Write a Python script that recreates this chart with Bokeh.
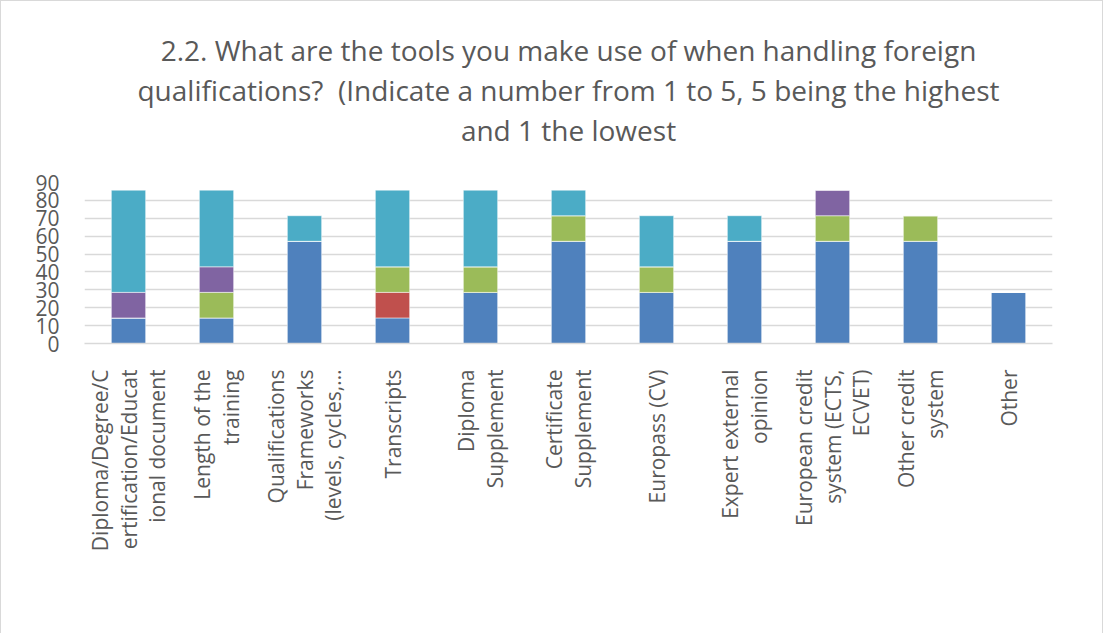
import math
from bokeh.plotting import figure
from bokeh.models import (ColumnDataSource, Range1d, SingleIntervalTicker,
                          FixedTicker, Title, Legend, LegendItem)
from bokeh.embed import file_html
from bokeh.resources import INLINE

# ---------------- data ----------------
# category tick labels, wrapped as in the chart
categories = [
    "Diploma/Degree/C\nertification/Educat\nional document",
    "Length of the\ntraining",
    "Qualifications\nFrameworks\n(levels, cycles,\u2026",
    "Transcripts",
    "Diploma\nSupplement",
    "Certificate\nSupplement",
    "Europass (CV)",
    "Expert external\nopinion",
    "European credit\nsystem (ECTS,\nECVET)",
    "Other credit\nsystem",
    "Other",
]
series_names = ["1", "2", "3", "4", "5"]
s1 = [14.29, 14.29, 57.14, 14.29, 28.57, 57.14, 28.57, 57.14, 57.14, 57.14, 28.57]
s2 = [0, 0, 0, 14.29, 0, 0, 0, 0, 0, 0, 0]
s3 = [0, 14.29, 0, 14.29, 14.29, 14.29, 14.29, 0, 14.29, 14.29, 0]
s4 = [14.29, 14.29, 0, 0, 0, 0, 0, 0, 14.29, 0, 0]
s5 = [57.14, 42.86, 14.29, 42.86, 42.86, 14.29, 28.57, 14.29, 0, 0, 0]
colors = ["#4F81BD", "#C0504D", "#9BBB59", "#8064A2", "#4BACC6"]
title_lines = [
    "2.2. What are the tools you make use of when handling foreign",
    "qualifications?\u00a0 (Indicate a number from 1 to 5, 5 being the highest",
    "and 1 the lowest",
]
y_ticks_interval = 10

FONT = "Open Sans"
TXT = "#595959"
GRID = "#D9D9D9"
LINE_STEP = 0.324  # spacing of wrapped label lines, in category widths

# category slot centres on a 0..N axis (one unit per category)
cat_pos = [i + 0.5 for i in range(len(categories))]
source = ColumnDataSource(dict(pos=cat_pos, cat=categories,
                               **{"1": s1, "2": s2, "3": s3, "4": s4, "5": s5}))

p = figure(frame_width=968, frame_height=161, x_range=Range1d(0, len(categories)),
           y_range=Range1d(0, 90), output_backend="svg", toolbar_location=None,
           min_border_left=83, min_border_right=50, min_border_top=181, min_border_bottom=289)
p.title = None
p.outline_line_color = None
p.styles = {"border": "1px solid #D9D9D9"}

renderers = p.vbar_stack(series_names, x="pos", width=0.39, color=colors, source=source,
                         line_color="white", line_alpha=0.5, line_width=1)

# spacer between frame and title, then the title lines (bottom line first)
p.add_layout(Title(text="\u00a0", text_font_size="29px", standoff=0), "above")
for txt in reversed(title_lines):
    p.add_layout(Title(text=txt, align="center", text_font=FONT, offset=-7,
                       text_font_size="28px", text_font_style="normal", text_color=TXT,
                       standoff=0), "above")

# wrapped category labels: one tick per label line
lab_ticks, lab_text = [], {}
for c, cat in zip(cat_pos, categories):
    lines = cat.split("\n")
    n = len(lines)
    for k, line in enumerate(lines):
        t = round(c + (k - (n - 1) / 2) * LINE_STEP, 4)
        lab_ticks.append(t)
        lab_text[t] = line

p.xaxis.ticker = FixedTicker(ticks=lab_ticks)
p.xaxis.major_label_overrides = lab_text
p.xaxis.major_label_orientation = math.pi / 2
p.xaxis.major_label_text_font = FONT
p.xaxis.major_label_text_font_size = "21px"
p.xaxis.major_label_text_color = TXT
p.xaxis.major_label_standoff = 20
p.xaxis.major_tick_line_color = None
p.xaxis.minor_tick_line_color = None
p.xaxis.axis_line_color = GRID
p.xaxis.axis_line_width = 1.5

p.yaxis.ticker = SingleIntervalTicker(interval=y_ticks_interval)
p.yaxis.major_label_text_font = FONT
p.yaxis.major_label_text_font_size = "21px"
p.yaxis.major_label_text_color = TXT
p.yaxis.major_label_standoff = 19
p.yaxis.major_tick_line_color = None
p.yaxis.minor_tick_line_color = None
p.yaxis.axis_line_color = None

p.xgrid.grid_line_color = None
p.ygrid.grid_line_color = GRID
p.ygrid.grid_line_width = 1.5

legend = Legend(items=[LegendItem(label=n, renderers=[r]) for n, r in zip(series_names, renderers)],
                orientation="horizontal", location="center",
                label_text_font=FONT, label_text_font_size="21px", label_text_color=TXT,
                glyph_width=13, glyph_height=13, spacing=14, label_standoff=6, label_width=12,
                border_line_color=None, background_fill_alpha=0, margin=0, padding=0)
p.add_layout(legend, "below")

open("out.html", "w").write(file_html(p, INLINE))
